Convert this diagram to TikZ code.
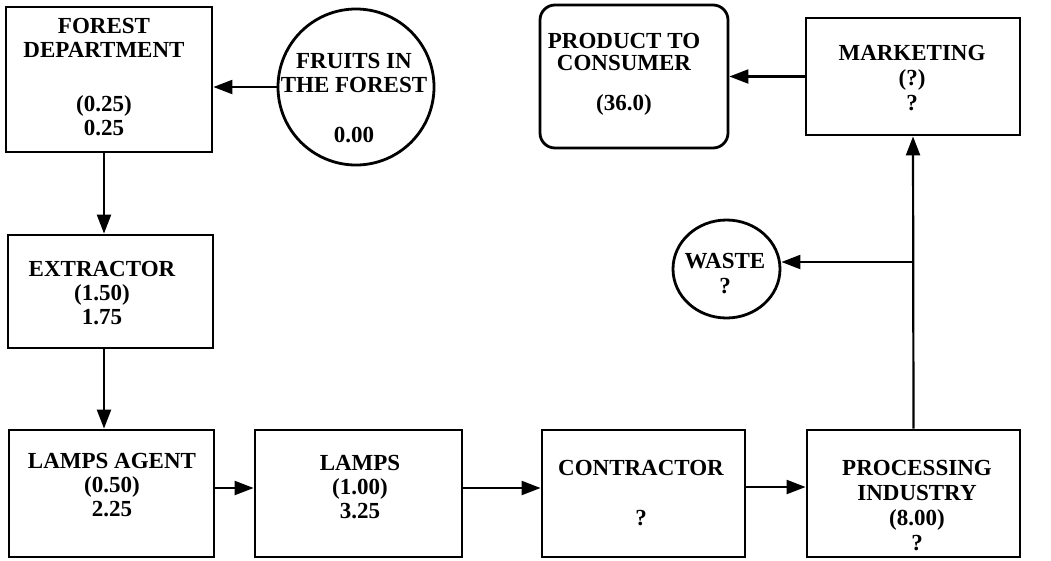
\documentclass[tikz,border=0pt]{standalone}
\usepackage{fontspec}
\setmainfont{Liberation Serif}
\usetikzlibrary{arrows.meta,calc,shapes.geometric}
\begin{document}
\begin{tikzpicture}[x=1pt,y=-1pt,
  box/.style={draw, line width=2.8pt, inner sep=0pt},
  txt/.style={font=\fontsize{23}{24}\selectfont\bfseries, align=center, inner sep=0pt, anchor=north},
  arr/.style={line width=2.2pt, -{Triangle[length=19pt,width=14pt]}}]
\useasboundingbox (0,0) rectangle (1051,560);
% boxes
\node[box, minimum width=206pt, minimum height=145pt] (fd) at (109,79.5) {};
\node[box, circle, minimum size=156pt] (fr) at (356,87) {};
\node[box, minimum width=205pt, minimum height=113pt] (ex) at (110.5,291.5) {};
\node[box, minimum width=205pt, minimum height=127pt] (la) at (111.5,493.5) {};
\node[box, minimum width=207pt, minimum height=127pt] (lp) at (358.5,493.5) {};
\node[box, minimum width=203pt, minimum height=127pt] (co) at (643.5,493.5) {};
\node[box, minimum width=213pt, minimum height=127pt] (pi) at (913.5,493.5) {};
\node[box, ellipse, minimum width=107pt, minimum height=98pt] (ws) at (726.5,269) {};
\node[box, minimum width=214pt, minimum height=117pt] (mk) at (913,76.5) {};
\node[box, rounded corners=15pt, minimum width=188pt, minimum height=143pt] (pc) at (634,76.5) {};
% texts
\node[txt] (fdt) at (104,18) {FOREST\\DEPARTMENT\\[30pt](0.25)\\0.25};
\node[txt] (frt) at (354,53) {FRUITS IN\\THE FOREST\\[26pt]0.00};
\node[txt] (ext) at (102,261) {EXTRACTOR\\(1.50)\\1.75};
\node[txt] (lat) at (112,453) {LAMPS AGENT\\(0.50)\\2.25};
\node[txt] (lpt) at (360,455) {LAMPS\\(1.00)\\3.25};
\node[txt] (cot) at (641,460) {CONTRACTOR\\[26pt]?};
\node[txt, font=\fontsize{23}{25}\selectfont\bfseries] (pit) at (917,460) {PROCESSING\\INDUSTRY\\(8.00)\\?};
\node[txt, font=\fontsize{23}{25}\selectfont\bfseries] (wst) at (725,253) {WASTE\\?};
\node[txt, font=\fontsize{23}{25}\selectfont\bfseries] (mkt) at (912,45) {MARKETING\\(?)\\?};
\node[txt] (pct) at (624,33) {PRODUCT TO\\[-2pt]CONSUMER\\[16pt](36.0)};
% connectors
\draw[arr] (fr.west) -- (fr.west -| fd.east);
\draw[arr] (fd.south -| fdt.north) -- (ex.north -| fdt.north);
\draw[arr] (ex.south -| fdt.north) -- (la.north -| fdt.north);
\draw[arr] ([yshift=5.5pt]la.east) -- ([yshift=5.5pt]lp.west);
\draw[arr] ([yshift=5.5pt]lp.east) -- ([yshift=5.5pt]co.west);
\draw[arr] ([yshift=6.5pt]co.east) -- ([yshift=6.5pt]pi.west);
\draw[arr] (pi.north) -- (mk.south);
\coordinate (j) at (pi.north |- 0,262);
\draw[arr] (j) -- (j -| ws.east);
\draw[arr] (mk.west) -- (mk.west -| pc.east);
\end{tikzpicture}
\end{document}
